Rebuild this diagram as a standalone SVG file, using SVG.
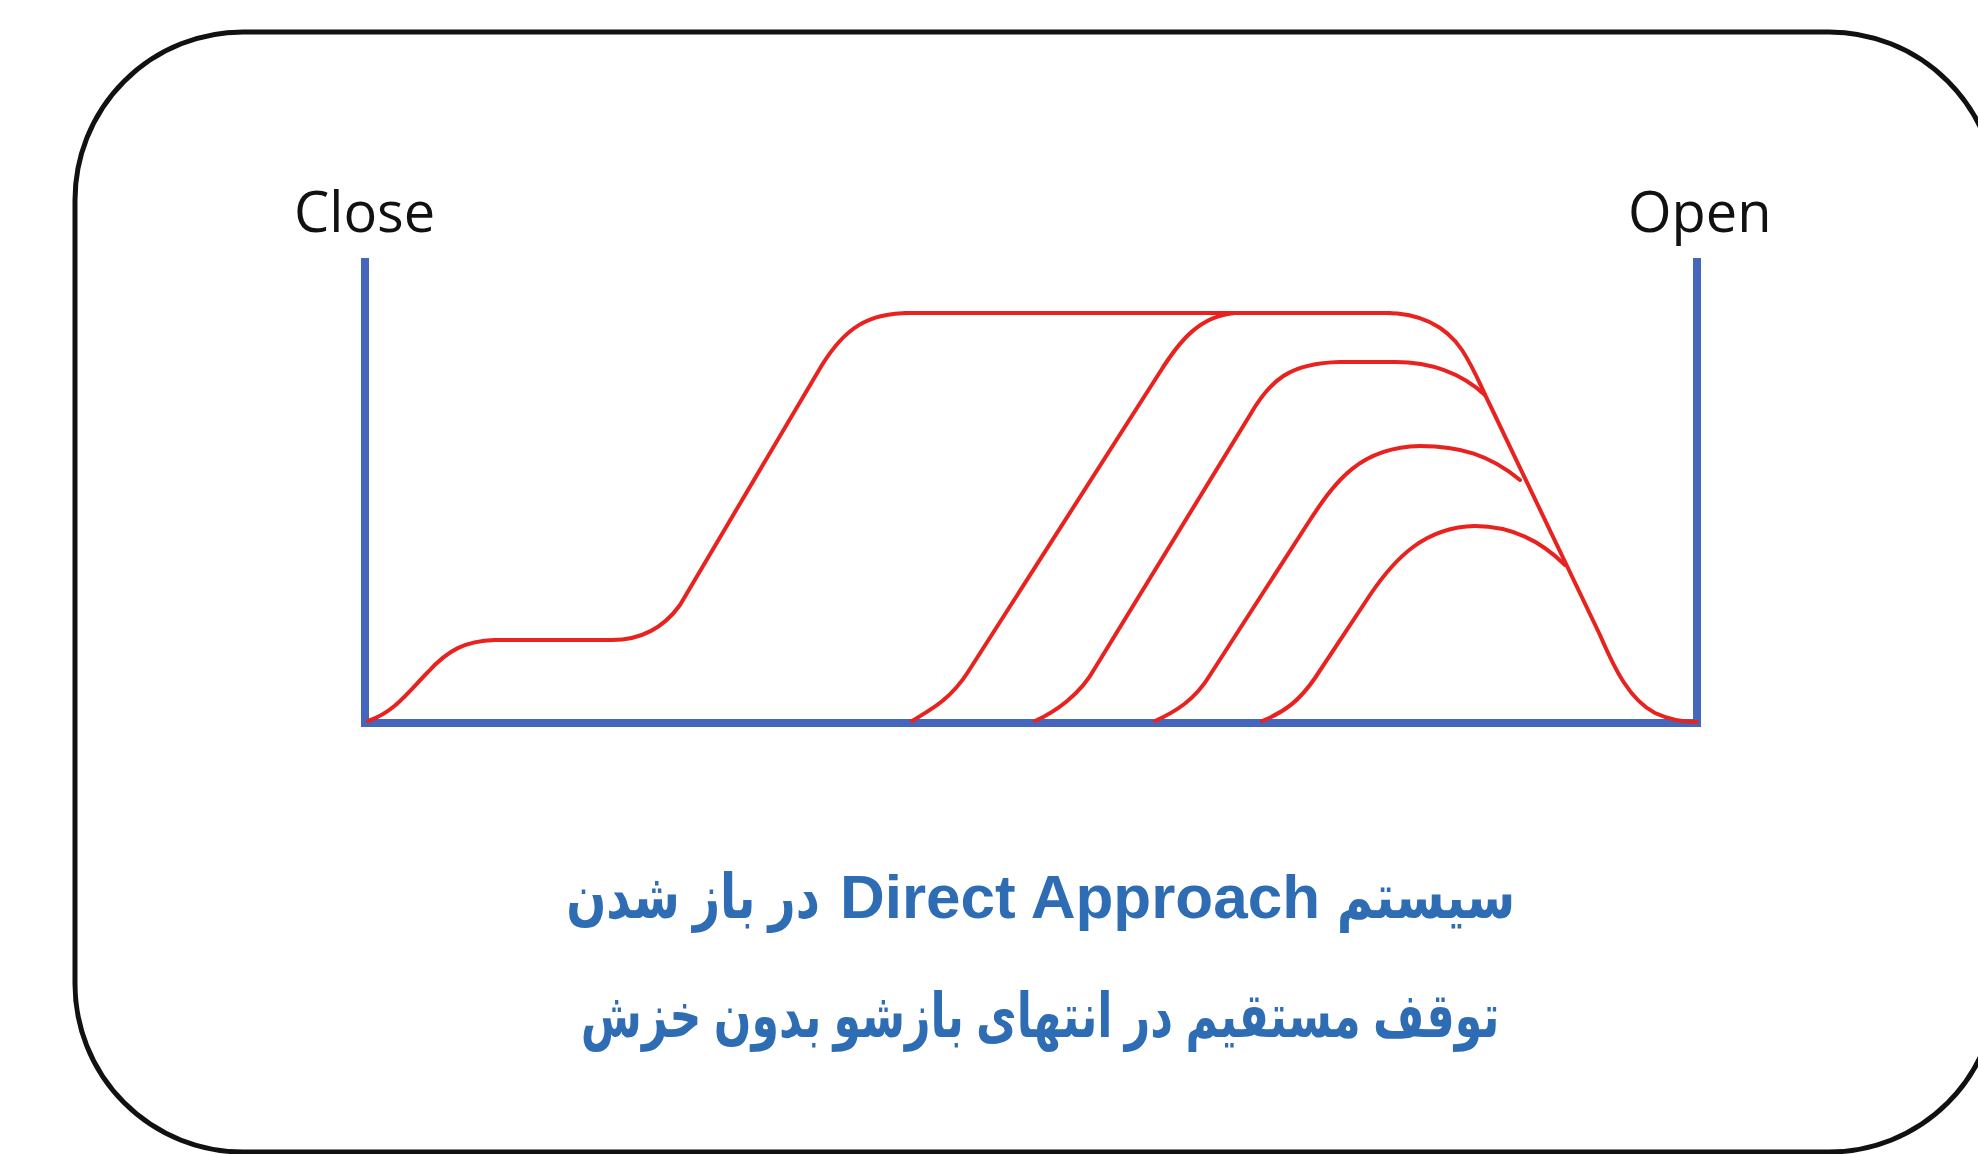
<svg xmlns="http://www.w3.org/2000/svg" width="1978" height="1154" viewBox="0 0 1978 1154">
<style>
.frame{fill:none;stroke:#111;stroke-width:5}
.axis{fill:none;stroke:#4467BD;stroke-width:8;stroke-linejoin:miter;stroke-linecap:butt}
.curve{fill:none;stroke:#E8231F;stroke-width:4;stroke-linecap:round;stroke-linejoin:round}
.lbl{font-family:"Open Sans","Noto Sans",sans-serif;font-size:56px;fill:#111}
.cap{font-family:"Liberation Sans","DejaVu Sans",sans-serif;font-weight:bold;font-size:62px;fill:#2E6DB4;text-anchor:middle}
</style>
<rect width="1978" height="1154" fill="#fff"/>
<g id="frame"><rect class="frame" x="75" y="32" width="1922" height="1120" rx="168" ry="168"/></g>
<g id="axes"><path class="axis" d="M365 258 L365 723 L1697 723 L1697 258"/></g>
<g id="labels">
<text class="lbl" x="294" y="232">Close</text>
<text class="lbl" x="1628" y="232">Open</text>
</g>
<g id="curves">
<path class="curve" d="M368 721 C395 712 410 690 428 672 C448 650 465 641 495 640 L612 640 C638 640 662 630 680 605 L822 365 C845 328 868 313 910 313 L1385 313 C1420 313 1445 325 1462 350 C1475 370 1480 385 1490 405 L1600 635 C1615 670 1630 700 1655 713 C1670 720 1685 722 1697 722"/>
<path class="curve" stroke-width="6" d="M905 313 L1390 313"/>
<path class="curve" d="M912 721 C930 710 950 700 968 672 L1160 372 C1180 340 1200 316 1235 313"/>
<path class="curve" d="M1035 721 C1055 712 1080 695 1095 668 L1250 415 C1270 380 1290 363 1340 362 L1395 362 C1430 362 1460 372 1485 395"/>
<path class="curve" d="M1155 721 C1175 712 1195 700 1210 675 L1310 520 C1335 482 1360 447 1420 446 C1460 446 1490 455 1520 480"/>
<path class="curve" d="M1262 721 C1285 712 1300 700 1315 678 L1370 595 C1395 558 1425 527 1475 526 C1515 526 1545 545 1565 565"/>
</g>
<g id="caption">
<text class="cap" transform="translate(1426 918) scale(0.8 1)">سیستم</text>
<text class="cap" x="1080" y="918" font-size="65">Direct Approach</text>
<text class="cap" transform="translate(693 918) scale(0.76 1)">در باز شدن</text>
<text class="cap" transform="translate(1040 1037) scale(0.715 1)">توقف مستقیم در انتهای بازشو بدون خزش</text>
</g>
</svg>
